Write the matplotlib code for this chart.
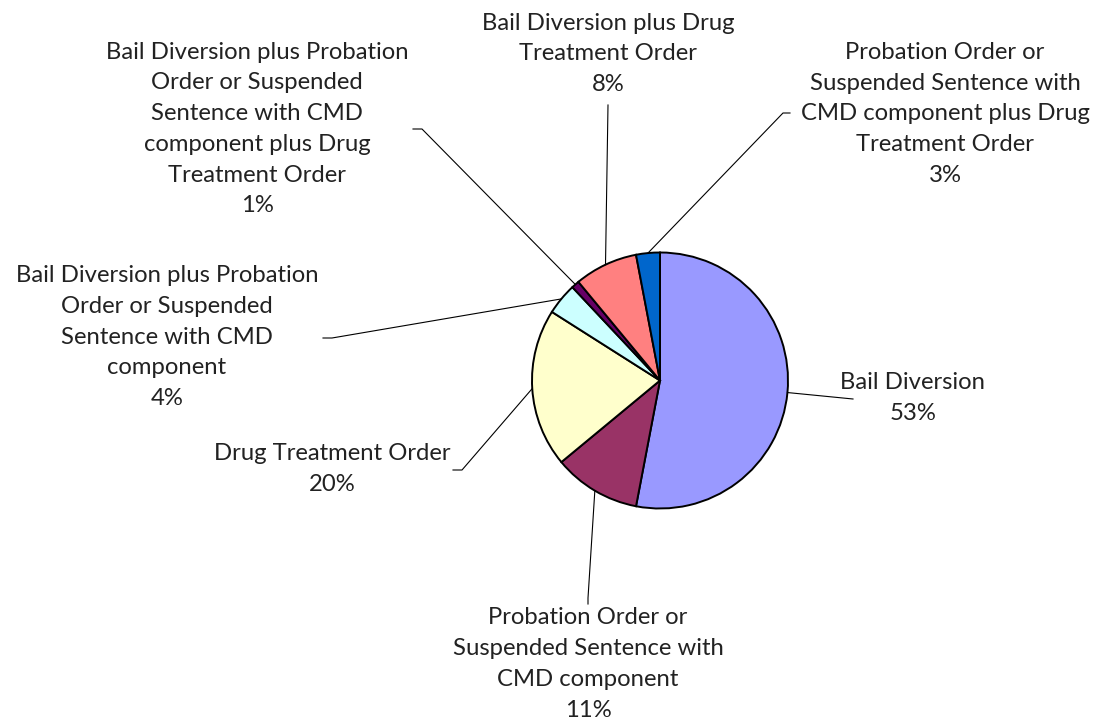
import numpy as np
import matplotlib
matplotlib.use("Agg")
import matplotlib.pyplot as plt

# ---- data ----
categories = [
    "Bail Diversion",
    "Probation Order or\nSuspended Sentence with\nCMD component",
    "Drug Treatment Order",
    "Bail Diversion plus Probation\nOrder or Suspended\nSentence with CMD\ncomponent",
    "Bail Diversion plus Probation\nOrder or Suspended\nSentence with CMD\ncomponent plus Drug\nTreatment Order",
    "Bail Diversion plus Drug\nTreatment Order",
    "Probation Order or\nSuspended Sentence with\nCMD component plus Drug\nTreatment Order",
]
values = [53, 11, 20, 4, 1, 8, 3]
colors = ["#9999FF", "#993366", "#FFFFCC", "#CCFFFF", "#660066", "#FF8080", "#0066CC"]

# ---- layout (pixel coordinates, y down) ----
W, H = 1104, 724
cx, cy, R = 660, 380.5, 128
# label text centre (x, y of block centre), leader elbow point, leader end point
label_pos = [(913, 398), (588, 664), (332, 469), (167, 337), (257, 129), (608, 54), (945, 114)]
leader_elbow = [(853, 399), (588, 598), (462, 470), (332, 338), (422, 129), (608, 105), (783, 113)]
leader_end = [(853, 399), (588, 604), (453, 470), (323, 338), (413, 129), (608, 105), (790, 113)]

plt.rcParams['font.family'] = ['Lato', 'DejaVu Sans']
fig = plt.figure(figsize=(W / 100, H / 100), dpi=100)
ax = fig.add_axes([0, 0, 1, 1])

wedges, _ = ax.pie(values, colors=colors, startangle=90, counterclock=False,
                   center=(cx, H - cy), radius=R,
                   wedgeprops=dict(edgecolor="black", linewidth=1.4))
ax.set_xlim(0, W)
ax.set_ylim(0, H)
ax.set_aspect('auto')
ax.axis('off')

total = sum(values)
cum = 0
for i, v in enumerate(values):
    mid = (cum + v / 2) / total
    cum += v
    ang = np.pi / 2 - 2 * np.pi * mid
    sx, sy = cx + R * np.cos(ang), (H - cy) + R * np.sin(ang)
    ex, ey = leader_elbow[i]
    fx, fy = leader_end[i]
    ax.plot([sx, ex, fx], [sy, H - ey, H - fy], color="black", lw=0.8)
    pct = f"{round(100 * v / total)}%"
    tx, ty = label_pos[i]
    ax.text(tx, H - ty, categories[i] + "\n" + pct, ha="center", va="center",
            multialignment="center", fontsize=17.2, color="#222222", linespacing=1.57)

fig.savefig("out.png", dpi=100)
